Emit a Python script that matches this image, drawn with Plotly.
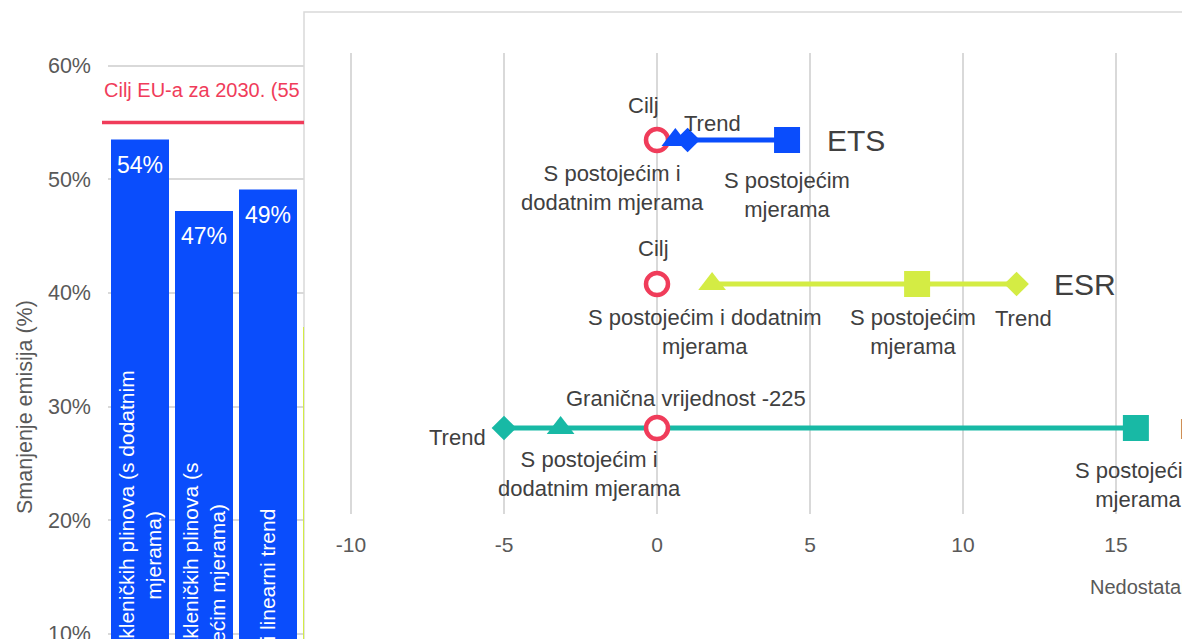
import plotly.graph_objects as go

# ---------------- data ----------------
bar_index = [0, 1, 2, 3]
bar_values = [53.5, 47.2, 49.1, 37.0]
bar_text = ["54%", "47%", "49%", "37%"]
bar_caption_line1 = ["Emisije stakleničkih plinova (s dodatnim",
                     "Emisije stakleničkih plinova (s",
                     "Dosadašnji linearni trend",
                     "ESR"]
bar_caption_line2 = ["mjerama)", "postojećim mjerama)", "", ""]
eu_target = 55
eu_target_text = "Cilj EU-a za 2030. (55 %)"
left_ticks = [10, 20, 30, 40, 50, 60]
left_ticktext = ["10%", "20%", "30%", "40%", "50%", "60%"]
left_title = "Smanjenje emisija (%)"

sectors = ["ETS", "ESR", "LULUCF"]
sector_pos = [3, 2, 1]
goal_vals = [0, 0, 0]
wam_vals = [0.6, 1.8, -3.15]      # S postojećim i dodatnim mjerama
wem_vals = [4.25, 8.5, 15.65]     # S postojećim mjerama
trend_vals = [1.0, 11.75, -5.0]   # Trend
goal_text = ["Cilj", "Cilj", "Granična vrijednost -225"]
wam_text = ["S postojećim i<br>dodatnim mjerama",
            "S postojećim i dodatnim<br>mjerama",
            "S postojećim i<br>dodatnim mjerama"]
wem_text = ["S postojećim<br>mjerama"] * 3
trend_text = ["Trend"] * 3
right_ticks = [-10, -5, 0, 5, 10, 15, 20]
right_ticktext = ["-10", "-5", "0", "5", "10", "15", "20"]
right_title = "Nedostatak u odnosu na cilj (Mt CO₂ ekv.)"

# ---------------- style ----------------
W, H = 1190, 639
OFF = 8  # default page margin of the html body
FONT = "Liberation Sans, Arial, sans-serif"
BLUE, GREEN, TEAL, RED = "#0a4dfc", "#d4ec44", "#18b9a5", "#f03c5a"
DARK, MID, GRID = "#404040", "#595959", "#d9d9d9"
bar_colors = [BLUE, BLUE, BLUE, GREEN]
sector_colors = [BLUE, GREEN, TEAL]


def fx(p):
    return (p - OFF) / W


def fy(p):
    return 1 - (p - OFF) / H


# left chart geometry (screen pixels)
LX0, LX1 = 108, 304
LY_TOP, LY_BOT = 40, H + OFF
Y60, PX_PER_PCT = 65.7, 11.36
CAT_STEP = 64
ly_range = [60 - (LY_BOT - Y60) / PX_PER_PCT, 60 + (Y60 - LY_TOP) / PX_PER_PCT]
lx_range = [-0.5, -0.5 + (LX1 - LX0) / CAT_STEP]
ly_dom = [max(0, fy(LY_BOT)), fy(LY_TOP)]

# right chart geometry (screen pixels)
RX0 = 330
RX1 = W + OFF
RY_TOP, RY_BOT = 53, 514
X_ZERO, PX_PER_UNIT = 657, 30.6
ROW3_PX, ROW_STEP = 140, 144
rx_range = [(RX0 - X_ZERO) / PX_PER_UNIT, (RX1 - X_ZERO) / PX_PER_UNIT]
ry_range = [3 - (RY_BOT - ROW3_PX) / ROW_STEP, 3 + (ROW3_PX - RY_TOP) / ROW_STEP]

# label offsets (xshift, yshift, xanchor)
goal_off = [(-14, 35, "center"), (-4, 36, "center"), (29, 30, "center")]
wam_off = [(-63, -48, "center"), (-7, -48, "center"), (29, -46, "center")]
wem_off = [(0, -55, "center"), (-4, -48, "center"), (2, -57, "center")]
trend_off = [(25, 17, "center"), (7, -34, "center"), (-16, -9, "right")]
name_shift = [38, 35, 41]
LAB_SIZE = 22

fig = go.Figure()

# ---- left bar chart ----
fig.add_trace(go.Bar(x=bar_index, y=bar_values, marker_color=bar_colors,
                     marker_line_width=0, xaxis="x", yaxis="y",
                     cliponaxis=True, showlegend=False, hoverinfo="skip"))

# red target text (clipped at the panel edge)
fig.add_trace(go.Scatter(x=[0], y=[0.5], mode="text", text=[eu_target_text],
                         textposition="middle right",
                         textfont=dict(family=FONT, size=20, color=RED),
                         xaxis="x3", yaxis="y3", cliponaxis=True,
                         showlegend=False, hoverinfo="skip"))

# ---- right dot plot ----
for i, s in enumerate(sectors):
    xs = sorted([wam_vals[i], wem_vals[i], trend_vals[i]])
    fig.add_trace(go.Scatter(x=xs, y=[sector_pos[i]] * len(xs), mode="lines",
                             line=dict(color=sector_colors[i], width=5),
                             xaxis="x2", yaxis="y2", showlegend=False,
                             hoverinfo="skip"))

fig.add_trace(go.Scatter(x=goal_vals, y=sector_pos, mode="markers",
                         marker=dict(symbol="circle", size=22, color="white",
                                     line=dict(color=RED, width=4.5)),
                         xaxis="x2", yaxis="y2", showlegend=False))
fig.add_trace(go.Scatter(x=wam_vals, y=sector_pos, mode="markers",
                         marker=dict(symbol="triangle-up", size=24,
                                     color=sector_colors, line_width=0),
                         xaxis="x2", yaxis="y2", showlegend=False))
fig.add_trace(go.Scatter(x=wem_vals, y=sector_pos, mode="markers",
                         marker=dict(symbol="square", size=26,
                                     color=sector_colors, line_width=0),
                         xaxis="x2", yaxis="y2", showlegend=False))
fig.add_trace(go.Scatter(x=trend_vals, y=sector_pos, mode="markers",
                         marker=dict(symbol="diamond", size=19,
                                     color=sector_colors, line_width=0),
                         xaxis="x2", yaxis="y2", showlegend=False))

annotations = []
lab_font = dict(family=FONT, size=LAB_SIZE, color=DARK)
for i in range(len(sectors)):
    for vals, texts, offs in [(goal_vals, goal_text, goal_off),
                              (wam_vals, wam_text, wam_off),
                              (wem_vals, wem_text, wem_off),
                              (trend_vals, trend_text, trend_off)]:
        dx, dy, anc = offs[i]
        annotations.append(dict(x=vals[i], y=sector_pos[i], xref="x2", yref="y2",
                                text=texts[i], showarrow=False, xanchor=anc,
                                yanchor="middle", xshift=dx, yshift=dy,
                                align="center", font=lab_font))
    xmax = max(wam_vals[i], wem_vals[i], trend_vals[i])
    annotations.append(dict(x=xmax, y=sector_pos[i], xref="x2", yref="y2",
                            text=sectors[i], showarrow=False, xanchor="left",
                            yanchor="middle", xshift=name_shift[i],
                            font=dict(family=FONT, size=30, color=DARK)))

# bar value labels and rotated captions (only bars visible in the left panel)
zero_paper = fy(Y60 + 60 * PX_PER_PCT)
for i, v in enumerate(bar_values):
    if bar_index[i] + 0.5 > lx_range[1]:
        continue
    annotations.append(dict(x=bar_index[i], y=v, xref="x", yref="y",
                            text=bar_text[i], showarrow=False, yanchor="middle",
                            yshift=-25, font=dict(family=FONT, size=23, color="white")))
    cap = bar_caption_line1[i] + ("<br>" + bar_caption_line2[i] if bar_caption_line2[i] else "")
    annotations.append(dict(x=bar_index[i], y=zero_paper, xref="x", yref="paper",
                            text=cap, showarrow=False, textangle=-90,
                            xanchor="center", yanchor="bottom", yshift=5,
                            align="center",
                            font=dict(family=FONT, size=21, color="white")))

# axis titles
annotations.append(dict(x=fx(25), y=fy(407), xref="paper", yref="paper",
                        text=left_title, showarrow=False, textangle=-90,
                        xanchor="center", yanchor="middle",
                        font=dict(family=FONT, size=21.5, color=MID)))
annotations.append(dict(x=fx(1088), y=fy(587), xref="paper", yref="paper",
                        text=right_title, showarrow=False, xanchor="left",
                        yanchor="middle", font=dict(family=FONT, size=20, color=MID)))

shapes = [
    # overlay panel of the right chart
    dict(type="rect", xref="paper", yref="paper", x0=fx(304), x1=1.3,
         y0=-0.3, y1=fy(12), fillcolor="white",
         line=dict(color=GRID, width=1.5), layer="below"),
    # EU target line
    dict(type="line", xref="paper", yref="y", x0=fx(102), x1=fx(304),
         y0=eu_target, y1=eu_target, line=dict(color=RED, width=3.5),
         layer="above"),
]

fig.update_layout(
    width=W, height=H, margin=dict(l=0, r=0, t=0, b=0),
    paper_bgcolor="white", plot_bgcolor="rgba(0,0,0,0)",
    bargap=1 - 58 / 64, barmode="overlay",
    font=dict(family=FONT, color=MID),
    showlegend=False,
    xaxis=dict(domain=[fx(LX0), fx(LX1)], range=lx_range, anchor="y",
               showgrid=False, zeroline=False, showticklabels=False, fixedrange=True),
    yaxis=dict(domain=ly_dom, range=ly_range, anchor="x", tickvals=left_ticks,
               ticktext=left_ticktext, showgrid=True, gridcolor=GRID, gridwidth=1.5,
               zeroline=False, showline=False, ticks="", ticklabelstandoff=16,
               ticklabeloverflow="allow",
               tickfont=dict(family=FONT, size=21.5, color=MID)),
    xaxis2=dict(domain=[fx(RX0), 1], range=rx_range, anchor="y2",
                tickvals=right_ticks, ticktext=right_ticktext,
                showgrid=True, gridcolor=GRID, gridwidth=1.5,
                zeroline=False, showline=False, ticks="", ticklabelstandoff=16,
                tickfont=dict(family=FONT, size=21, color=MID)),
    yaxis2=dict(domain=[fy(RY_BOT), fy(RY_TOP)], range=ry_range, anchor="x2",
                visible=False),
    xaxis3=dict(domain=[fx(104), fx(304)], range=[0, 1], anchor="y3", visible=False),
    yaxis3=dict(domain=[fy(120), fy(64)], range=[0, 1], anchor="x3", visible=False),
    annotations=annotations,
    shapes=shapes,
)

fig.write_html("out.html", config={"displayModeBar": False})
